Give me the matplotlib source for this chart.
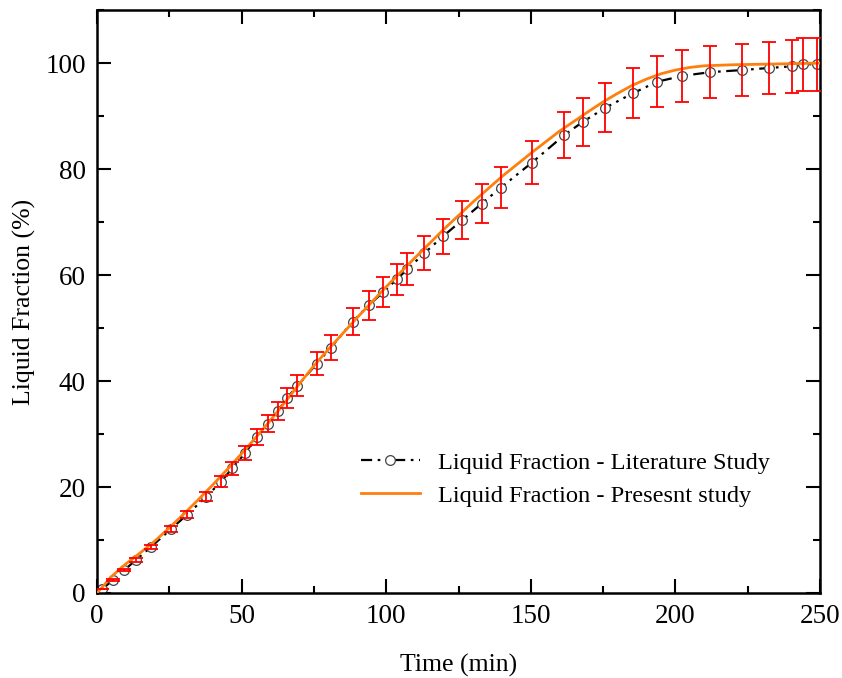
import numpy as np
import matplotlib
matplotlib.use('Agg')
from matplotlib import pyplot as plt
from matplotlib.ticker import MultipleLocator

#---------------- дані: література (точки з похибками) ----------------
t_lit = [1.6, 5.6, 9.4, 13.4, 18.7, 25.6, 31.2, 37.8, 42.9, 46.7, 51.3, 55.2, 59.1,
         62.5, 65.7, 69.3, 76.0, 80.8, 88.4, 93.9, 99.0, 103.6, 107.3, 113.1, 119.6,
         126.3, 133.0, 139.6, 150.3, 161.5, 167.9, 175.8, 185.2, 193.7, 202.4, 212.0,
         223.1, 232.5, 240.4, 244.2, 248.9]
y_lit = [0.7, 2.45, 4.3, 6.2, 8.7, 12.1, 14.8, 18.2, 21.0, 23.5, 26.5, 29.4, 31.9,
         34.3, 36.8, 39.1, 43.3, 46.3, 51.2, 54.3, 56.8, 59.2, 61.1, 64.1, 67.3,
         70.4, 73.5, 76.5, 81.2, 86.4, 88.9, 91.6, 94.3, 96.5, 97.6, 98.3,
         98.7, 99.1, 99.4, 99.8, 99.8]
err_lit = [0.04, 0.12, 0.22, 0.31, 0.44, 0.61, 0.74, 0.91, 1.05, 1.18, 1.33, 1.47, 1.6,
           1.72, 1.84, 1.96, 2.17, 2.32, 2.56, 2.72, 2.84, 2.96, 3.06, 3.21, 3.37,
           3.52, 3.68, 3.83, 4.06, 4.32, 4.45, 4.58, 4.72, 4.83, 4.88, 4.92,
           4.94, 4.96, 4.97, 4.99, 4.99]

#---------------- дані: поточне дослідження ----------------
t_cur = [0, 2, 5, 10, 15, 20, 25, 30, 35, 40, 45, 50, 55, 60, 65, 70, 75, 80, 90,
         100, 110, 120, 130, 140, 150, 160, 170, 175, 180, 185, 190, 195, 200, 205,
         210, 220, 230, 240, 250]
y_cur = [0, 1.2, 3.1, 5.5, 7.6, 9.8, 12.3, 14.9, 17.6, 20.4, 23.3, 26.3, 29.4, 32.6,
         36.0, 39.5, 42.9, 46.0, 52.0, 57.8, 63.3, 68.7, 73.8, 78.6, 83.0, 87.2,
         90.9, 92.7, 94.3, 95.8, 97.0, 98.0, 98.7, 99.2, 99.5, 99.7, 99.8, 99.9, 100.0]

plt.rcParams['font.family'] = 'Liberation Serif'
plt.rcParams['font.size'] = 19.5

fig = plt.figure(figsize=(8.42, 6.78), dpi=100)
ax = fig.add_axes([0.1152, 0.1254, 0.8588, 0.8596])

ax.plot(t_lit, y_lit, color='black', lw=1.6, linestyle=(0, (5, 2.5, 1.2, 2.5, 1.2, 2.5)),
        marker='o', markersize=7, markerfacecolor='white', markeredgecolor='#444444',
        markeredgewidth=0.9, label='Liquid Fraction - Literature Study', zorder=2)
ax.plot(t_cur, y_cur, color='#ff7f0e', lw=2.0, label='Liquid Fraction - Presesnt study', zorder=3)
ax.errorbar(t_lit, y_lit, yerr=err_lit, fmt='none', ecolor='red', elinewidth=1.3,
            capsize=5, capthick=1.3, zorder=4)

ax.set_xlim(0, 250)
ax.set_ylim(0, 110)
ax.xaxis.set_major_locator(MultipleLocator(50))
ax.xaxis.set_minor_locator(MultipleLocator(25))
ax.yaxis.set_major_locator(MultipleLocator(20))
ax.yaxis.set_minor_locator(MultipleLocator(10))
ax.tick_params(which='both', direction='in', top=True, right=True, width=1.5)
ax.tick_params(which='major', length=10, pad=8)
ax.tick_params(which='minor', length=5)
for s in ax.spines.values():
    s.set_linewidth(1.8)

ax.set_xlabel('Time (min)', fontsize=18.5, labelpad=18)
ax.set_ylabel('Liquid Fraction (%)', fontsize=18.5, labelpad=7)

ax.legend(loc='upper left', bbox_to_anchor=(0.334, 0.28), frameon=False,
          numpoints=1, handlelength=2.45, fontsize=17.6, handletextpad=0.7, labelspacing=0.45)

fig.savefig('out.png', dpi=100)
